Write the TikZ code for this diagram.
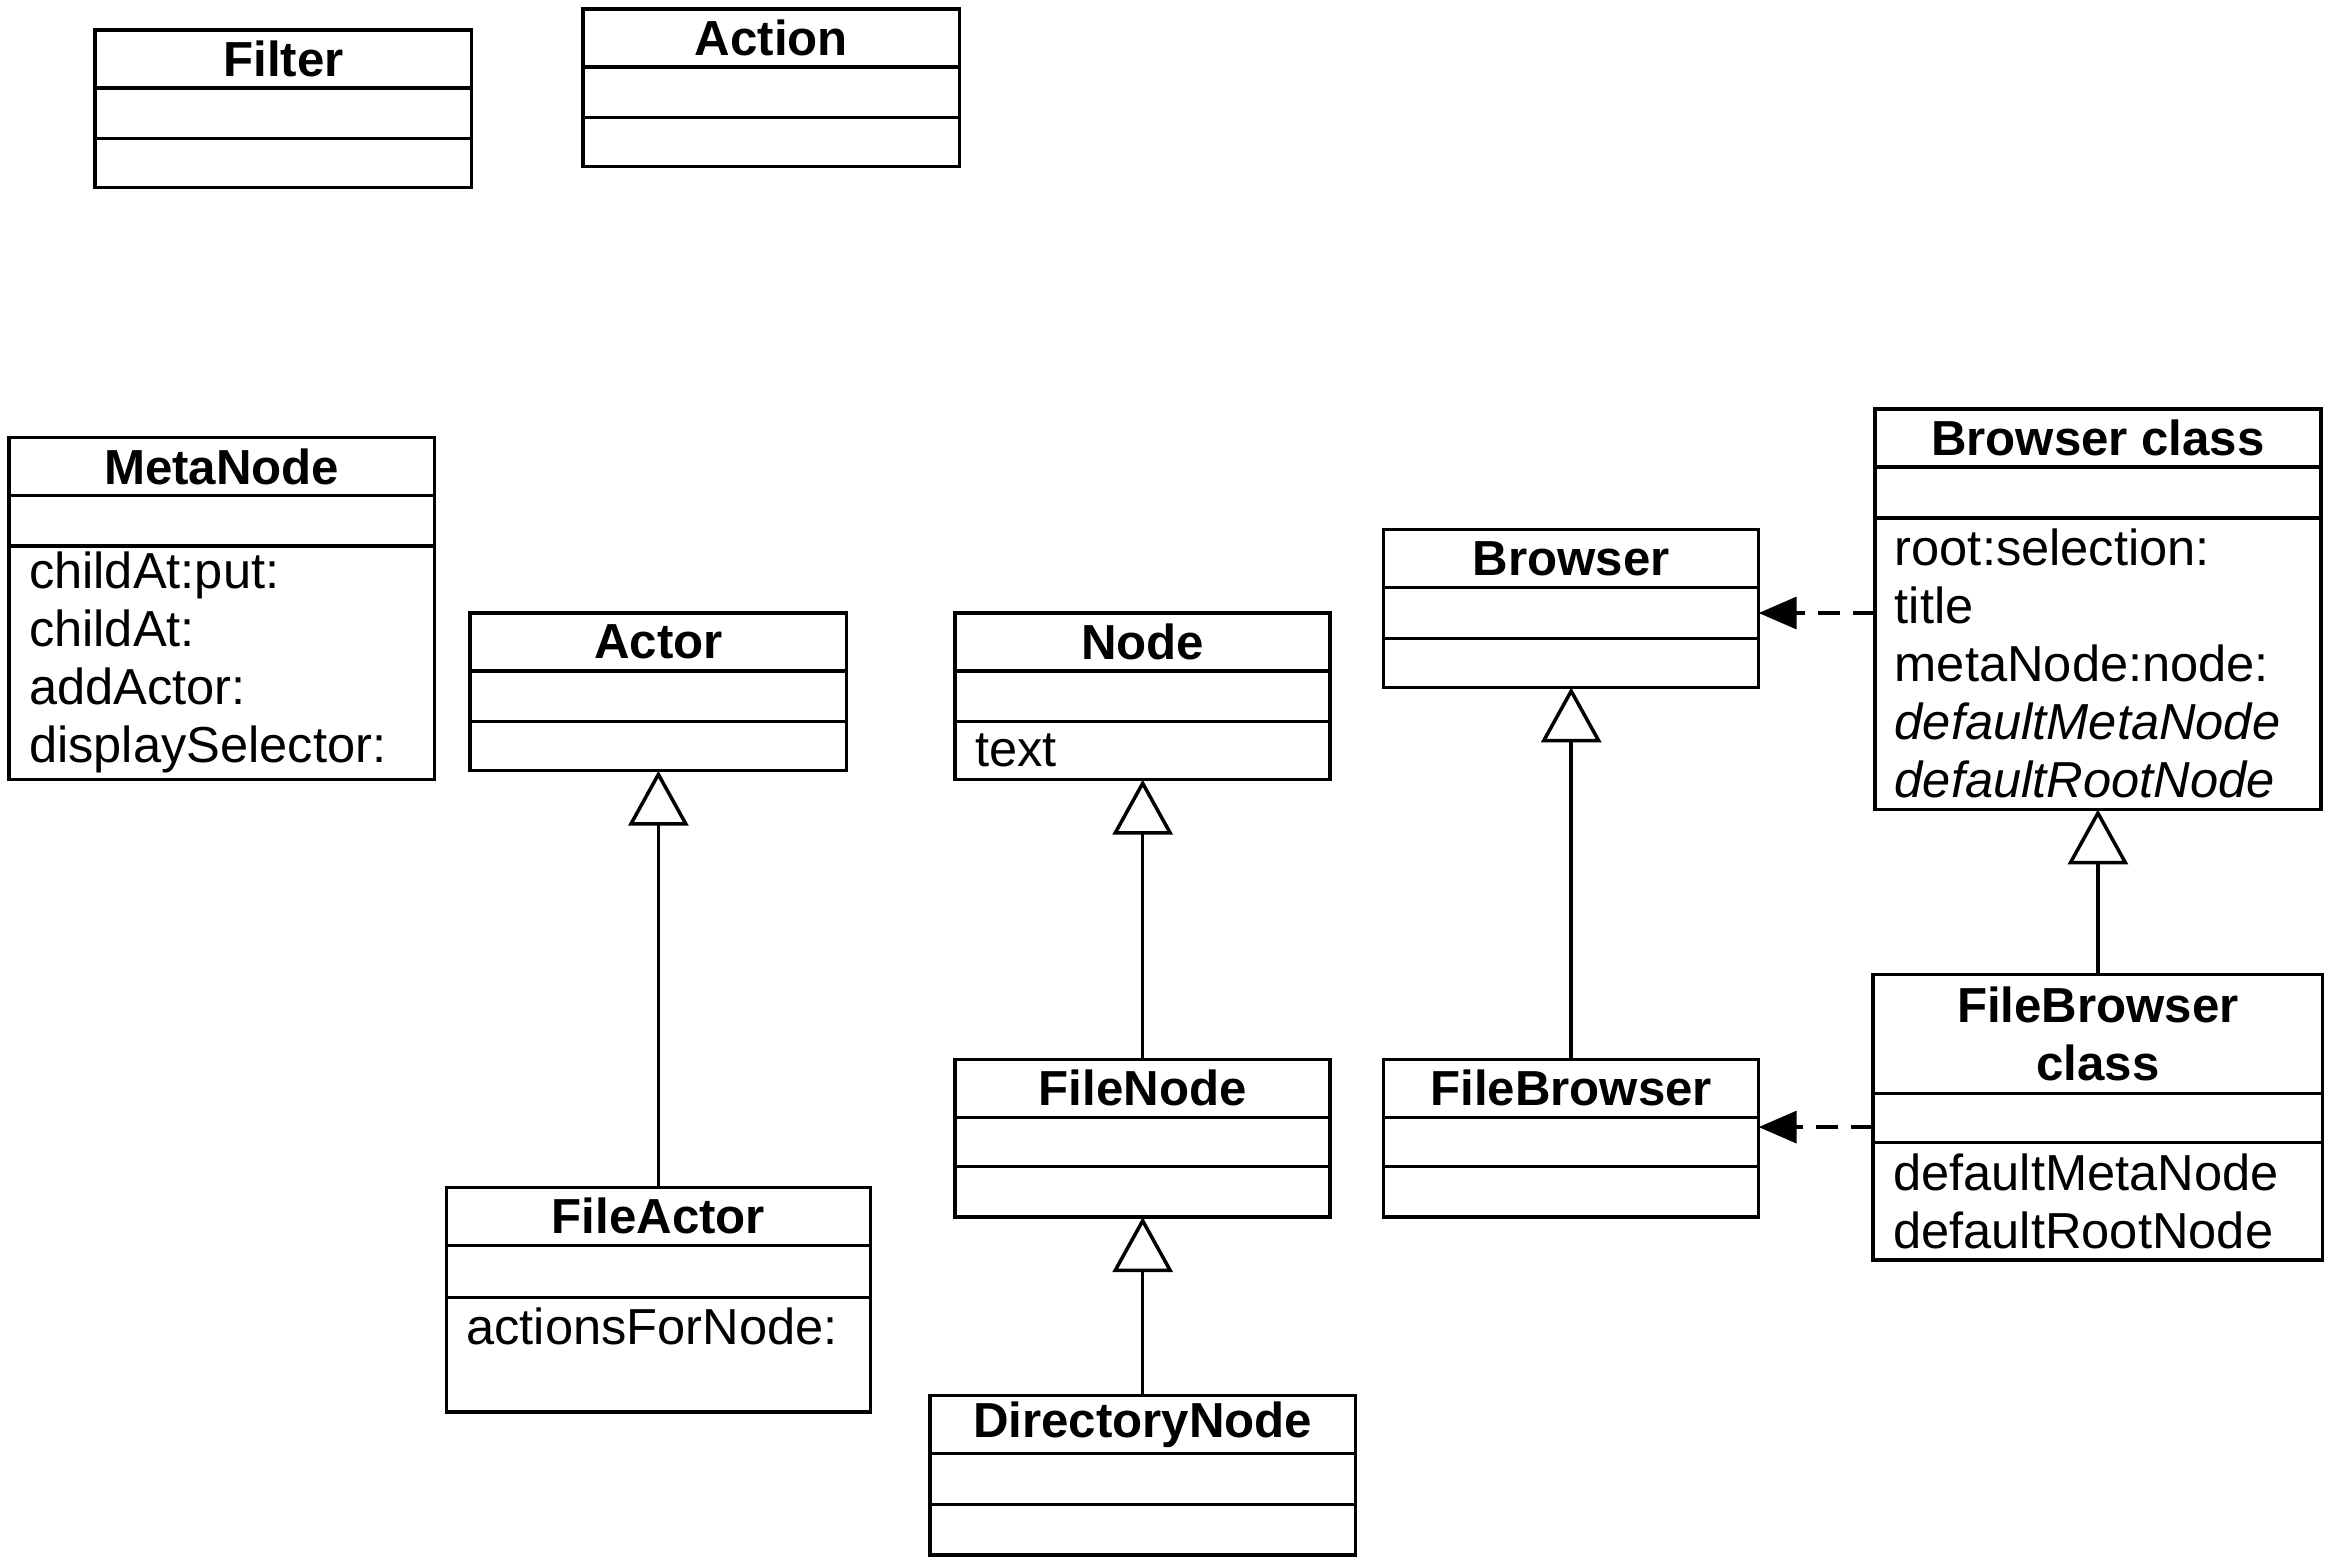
\documentclass[tikz,border=0pt]{standalone}
\usepackage{fontspec}
\setmainfont{Liberation Sans}
\usetikzlibrary{positioning,arrows.meta}
\newlength{\px}
\setlength{\px}{0.014879cm}

\begin{document}
\begin{tikzpicture}[x=0.014879cm, y=-0.014879cm, line width=1pt,
  every node/.style={outer sep=0pt, inner sep=0pt, font=\fontsize{14.4}{16.5}\selectfont},
  cname/.style={draw, anchor=north west, align=center, font=\fontsize{14}{16.5}\selectfont\bfseries},
  comp/.style={draw},
  items/.style={draw, align=left, inner xsep=13.5\px},
  inherit/.style={-{Triangle[open, fill=white, length=0.55cm, width=0.6cm]}},
  depend/.style={dash pattern=on 0.22cm off 0.13cm, -{Triangle[length=0.38cm, width=0.32cm]}}]
\useasboundingbox (0,0) rectangle (1568,1050);

\node[cname, minimum width=253\px, minimum height=39\px] (filter) at (64,20) {Filter};
\node[comp, minimum width=253\px, minimum height=34\px, below=0pt of filter] (filter-a) {};
\node[comp, minimum width=253\px, minimum height=33\px, below=0pt of filter-a] (filter-o) {};

\node[cname, minimum width=253\px, minimum height=39\px] (action) at (392,6) {Action};
\node[comp, minimum width=253\px, minimum height=34\px, below=0pt of action] (action-a) {};
\node[comp, minimum width=253\px, minimum height=33\px, below=0pt of action-a] (action-o) {};

\node[cname, minimum width=286\px, minimum height=39\px] (metanode) at (6,294) {MetaNode};
\node[comp, minimum width=286\px, minimum height=34\px, below=0pt of metanode] (metanode-a) {};
\node[items, text width=259\px, minimum height=157\px, below=0pt of metanode-a] (metanode-o) {childAt:put:\\childAt:\\addActor:\\displaySelector:};

\node[cname, minimum width=253\px, minimum height=39\px] (actor) at (316,412) {Actor};
\node[comp, minimum width=253\px, minimum height=34\px, below=0pt of actor] (actor-a) {};
\node[comp, minimum width=253\px, minimum height=33\px, below=0pt of actor-a] (actor-o) {};

\node[cname, minimum width=252\px, minimum height=39\px] (node) at (642,412) {Node};
\node[comp, minimum width=252\px, minimum height=34\px, below=0pt of node] (node-a) {};
\node[items, text width=225\px, minimum height=39\px, below=0pt of node-a] (node-o) {text};

\node[cname, minimum width=252\px, minimum height=39\px] (browser) at (930,356) {Browser};
\node[comp, minimum width=252\px, minimum height=34\px, below=0pt of browser] (browser-a) {};
\node[comp, minimum width=252\px, minimum height=33\px, below=0pt of browser-a] (browser-o) {};

\node[cname, minimum width=300\px, minimum height=39\px] (bcls) at (1260,275) {Browser class};
\node[comp, minimum width=300\px, minimum height=34\px, below=0pt of bcls] (bcls-a) {};
\node[items, text width=273\px, minimum height=196\px, below=0pt of bcls-a] (bcls-o) {root:selection:\\title\\metaNode:node:\\\textit{defaultMetaNode}\\\textit{defaultRootNode}};

\node[cname, minimum width=285\px, minimum height=39\px] (fileactor) at (300,798) {FileActor};
\node[comp, minimum width=285\px, minimum height=35\px, below=0pt of fileactor] (fileactor-a) {};
\node[items, text width=258\px, minimum height=77\px, below=0pt of fileactor-a] (fileactor-o) {actionsForNode:\\\mbox{}};

\node[cname, minimum width=252\px, minimum height=39\px] (filenode) at (642,712) {FileNode};
\node[comp, minimum width=252\px, minimum height=33\px, below=0pt of filenode] (filenode-a) {};
\node[comp, minimum width=252\px, minimum height=34\px, below=0pt of filenode-a] (filenode-o) {};

\node[cname, minimum width=286\px, minimum height=39\px] (dirnode) at (625,938) {DirectoryNode};
\node[comp, minimum width=286\px, minimum height=34\px, below=0pt of dirnode] (dirnode-a) {};
\node[comp, minimum width=286\px, minimum height=34\px, below=0pt of dirnode-a] (dirnode-o) {};

\node[cname, minimum width=252\px, minimum height=39\px] (filebrowser) at (930,712) {FileBrowser};
\node[comp, minimum width=252\px, minimum height=33\px, below=0pt of filebrowser] (filebrowser-a) {};
\node[comp, minimum width=252\px, minimum height=34\px, below=0pt of filebrowser-a] (filebrowser-o) {};

\node[cname, minimum width=302\px, minimum height=80\px] (fbcls) at (1259,655) {FileBrowser\\class};
\node[comp, minimum width=302\px, minimum height=33\px, below=0pt of fbcls] (fbcls-a) {};
\node[items, text width=275\px, minimum height=79\px, below=0pt of fbcls-a] (fbcls-o) {defaultMetaNode\\defaultRootNode};

\draw[inherit] (fileactor.north) -- (actor-o.south);
\draw[inherit] (filenode.north) -- (node-o.south);
\draw[inherit] (dirnode.north) -- (filenode-o.south);
\draw[inherit] (filebrowser.north) -- (browser-o.south);
\draw[inherit] (fbcls.north) -- (bcls-o.south);

\draw[depend] (bcls-o.west |- browser-a.east) -- (browser-a.east);
\coordinate (fbdep) at ([yshift=-6\px]fbcls-a.west);
\draw[depend] (fbdep) -- (fbdep -| filebrowser-a.east);
\end{tikzpicture}
\end{document}
